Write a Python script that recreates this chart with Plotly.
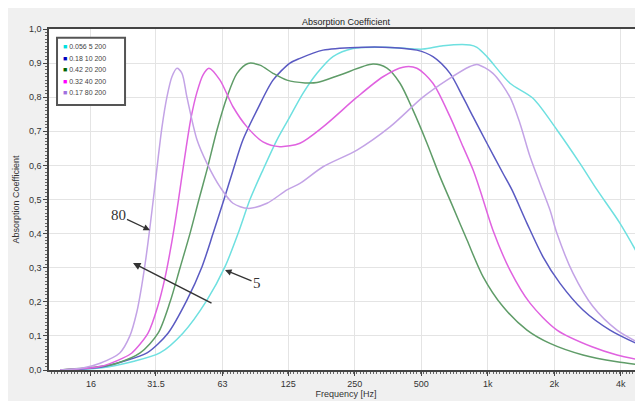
import numpy as np
import plotly.graph_objects as go

# ---- data (frequency in Hz, absorption coefficient) ----
series_names = ["0.056 5 200", "0.18 10 200", "0.42 20 200", "0.32 40 200", "0.17 80 200"]
line_colors = ["#6ee0e0", "#5a5ac2", "#5f9c68", "#e062e0", "#c3a3e6"]
legend_colors = ["#00e0e0", "#0000c0", "#006400", "#ff00ff", "#a070e0"]

f_cyan = [11.6, 17.6, 24.8, 32.8, 41.7, 53.6, 64.7, 74.1, 83.9, 96.1, 111.2, 127.3, 145.8, 168.7, 199.3,
          245.6, 361, 509, 627.5, 831, 894, 992, 1261, 1603, 2059, 2616, 3128, 3971, 4942]
a_cyan = [0.0, 0.006, 0.025, 0.05, 0.108, 0.205, 0.303, 0.40, 0.50, 0.587, 0.675, 0.743, 0.811, 0.87, 0.919,
          0.943, 0.946, 0.941, 0.951, 0.953, 0.946, 0.919, 0.841, 0.797, 0.704, 0.606, 0.528, 0.43, 0.323]

f_blue = [11.6, 17.6, 22.3, 28.7, 35.7, 43.5, 50.9, 57.1, 64.0, 70.3, 78.0, 90.3, 106.7, 127.3, 141.3,
          179.7, 256, 361, 478, 565, 675, 773, 858, 992, 1172, 1288, 1506, 1779, 2125, 2699, 3578, 4891]
a_blue = [0.0, 0.008, 0.025, 0.05, 0.108, 0.205, 0.303, 0.40, 0.50, 0.585, 0.675, 0.762, 0.85, 0.90, 0.914,
          0.938, 0.946, 0.946, 0.938, 0.919, 0.870, 0.80, 0.743, 0.665, 0.577, 0.528, 0.43, 0.332, 0.254, 0.176,
          0.117, 0.073]

f_green = [11.6, 17.6, 21.0, 26.7, 32.2, 36.5, 40.5, 44.9, 49.3, 53.6, 59.5, 66.0, 73.3, 82.2, 93.1,
           106.7, 123.4, 148.9, 168.7, 214.4, 302.5, 350, 400.8, 459, 531, 608, 689, 806, 952, 1172,
           1506, 1914, 2699, 3848, 4891]
a_green = [0.0, 0.01, 0.02, 0.05, 0.108, 0.20, 0.30, 0.40, 0.50, 0.587, 0.704, 0.80, 0.87, 0.899, 0.894,
           0.87, 0.85, 0.842, 0.843, 0.865, 0.897, 0.885, 0.841, 0.762, 0.665, 0.567, 0.485, 0.381, 0.274, 0.186,
           0.117, 0.078, 0.044, 0.024, 0.015]

f_magenta = [11.6, 17.6, 22.3, 24.5, 29.0, 32.2, 34.6, 36.8, 38.8, 40.9, 43.1, 45.4, 48.3, 51.4, 54.7,
             61.4, 70.3, 81.3, 96.1, 114.7, 141.3, 179.7, 256, 335.7, 413.5, 478, 565, 675, 773, 858,
             923, 1056, 1261, 1554, 2059, 2965, 3848, 4942]
a_magenta = [0.0, 0.01, 0.035, 0.05, 0.108, 0.19, 0.27, 0.36, 0.45, 0.55, 0.65, 0.74, 0.815, 0.865, 0.885,
             0.85, 0.772, 0.713, 0.669, 0.655, 0.665, 0.713, 0.80, 0.86, 0.888, 0.885, 0.841, 0.743, 0.655, 0.587,
             0.528, 0.41, 0.293, 0.196, 0.117, 0.068, 0.044, 0.029]

f_purple = [11.6, 14.7, 17.6, 21.6, 24.0, 25.8, 27.2, 28.4, 29.6, 30.9, 32.2, 33.5, 35.3, 37.2, 39.2,
            41.3, 43.5, 48.3, 53.6, 61.4, 70.3, 82.2, 100.2, 123.4, 141.3, 179.7, 256, 361, 509, 654,
            831, 894, 1056, 1261, 1400, 1554, 1724, 1914, 2059, 2432, 2995, 3848, 4891]
a_purple = [0.0, 0.006, 0.02, 0.05, 0.10, 0.17, 0.25, 0.33, 0.42, 0.52, 0.62, 0.71, 0.80, 0.86, 0.885,
            0.87, 0.80, 0.675, 0.606, 0.537, 0.489, 0.474, 0.489, 0.528, 0.547, 0.596, 0.645, 0.713, 0.80, 0.85,
            0.89, 0.896, 0.87, 0.80, 0.723, 0.626, 0.547, 0.469, 0.40, 0.284, 0.186, 0.117, 0.078]

x_tick_vals = [16, 31.5, 63, 125, 250, 500, 1000, 2000, 4000]
x_tick_text = ["16", "31.5", "63", "125", "250", "500", "1k", "2k", "4k"]
y_tick_vals = [0.0, 0.1, 0.2, 0.3, 0.4, 0.5, 0.6, 0.7, 0.8, 0.9, 1.0]
y_tick_text = ["0,0", "0,1", "0,2", "0,3", "0,4", "0,5", "0,6", "0,7", "0,8", "0,9", "1,0"]

freqs = [f_cyan, f_blue, f_green, f_magenta, f_purple]
absorb = [a_cyan, a_blue, a_green, a_magenta, a_purple]

fig = go.Figure()
for name, fx, ay, col in zip(series_names, freqs, absorb, line_colors):
    fig.add_trace(go.Scatter(x=fx, y=ay, mode="lines", name=name, showlegend=False,
                             line=dict(color=col, width=1.5, shape="spline", smoothing=0.8)))

tick_font = dict(family="Liberation Sans, Arial, sans-serif", size=9, color="#333333")
minor_x = list(16 * 2 ** (np.arange(-14, 170) / 20.0))

fig.update_xaxes(type="log", range=[np.log10(10.33), np.log10(5046)],
                 tickvals=x_tick_vals, ticktext=x_tick_text, tickfont=tick_font,
                 showgrid=True, gridcolor="#e4e4e4", gridwidth=1,
                 showline=True, linecolor="#444444", linewidth=1.5, mirror=True,
                 ticks="outside", ticklen=4, tickcolor="#444444",
                 minor=dict(tickvals=minor_x, ticks="outside", ticklen=2, tickcolor="#666666", showgrid=False),
                 title=dict(text="Frequency [Hz]", font=tick_font, standoff=2),
                 zeroline=False)
fig.update_yaxes(range=[0, 1.0], tickvals=y_tick_vals, ticktext=y_tick_text, tickfont=tick_font,
                 showgrid=True, gridcolor="#e4e4e4", gridwidth=1,
                 showline=True, linecolor="#444444", linewidth=1.5,
                 ticks="outside", ticklen=4, tickcolor="#444444",
                 minor=dict(dtick=0.01, ticks="outside", ticklen=2, tickcolor="#666666", showgrid=False),
                 title=dict(text="Absorption Coefficient", font=tick_font, standoff=8),
                 zeroline=False)

shapes = [
    # legend box
    dict(type="rect", xref="paper", yref="paper", x0=0.0135, x1=0.128, y0=0.777, y1=0.974,
         fillcolor="white", line=dict(color="#555555", width=2), layer="above"),
]

annotations = [
    dict(text="Absorption Coefficient", xref="paper", yref="paper", x=0.5, y=1.0,
         xanchor="center", yanchor="bottom", showarrow=False, yshift=0,
         font=dict(family="Liberation Sans, Arial, sans-serif", size=9, color="#222222")),
]
row_y0 = (370 - 46.5) / 341.0
row_step = 11.6 / 341.0
for i, (name, col) in enumerate(zip(series_names, legend_colors)):
    annotations.append(dict(
        text=f'<span style="color:{col}">■</span>&nbsp;{name}', xref="paper", yref="paper",
        x=0.021, y=row_y0 - i * row_step, xanchor="left", yanchor="middle", showarrow=False,
        font=dict(family="Liberation Sans, Arial, sans-serif", size=7, color="#444444")))

serif = dict(family="Liberation Serif, Times New Roman, serif", size=15, color="#333333")
annotations += [
    dict(x=np.log10(29.6), y=0.41, xref="x", yref="y", text="80", showarrow=True,
         ax=-32, ay=-15, arrowhead=2, arrowsize=1, arrowwidth=1.3, arrowcolor="#333333", font=serif),
    dict(x=np.log10(64.7), y=0.293, xref="x", yref="y", text="5", showarrow=True,
         ax=32, ay=13, arrowhead=2, arrowsize=1, arrowwidth=1.3, arrowcolor="#333333", font=serif),
    dict(x=np.log10(24.8), y=0.314, xref="x", yref="y", text="", showarrow=True,
         ax=80, ay=41, arrowhead=2, arrowsize=1, arrowwidth=1.5, arrowcolor="#333333", font=serif),
]

# the page body adds an 8 px offset, so the plot area is placed 8 px up/left in figure coordinates
fig.update_layout(width=643, height=401, margin=dict(l=41, r=8, t=21, b=39, autoexpand=False),
                  paper_bgcolor="#f0f0f0", plot_bgcolor="white",
                  shapes=shapes, annotations=annotations, showlegend=False)

fig.write_html("out.html")
